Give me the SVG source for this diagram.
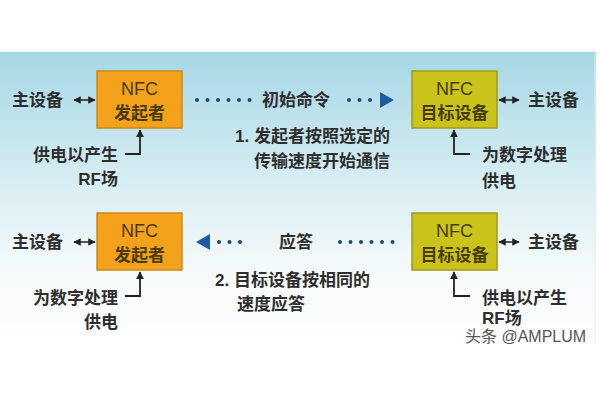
<svg xmlns="http://www.w3.org/2000/svg" width="600" height="400" viewBox="0 0 600 400">
<defs>
<linearGradient id="bg" x1="0" y1="0" x2="0" y2="1">
<stop offset="0" stop-color="#a6d7e5"/>
<stop offset="0.45" stop-color="#d8eef3"/>
<stop offset="0.75" stop-color="#f6fafb"/>
<stop offset="1" stop-color="#ffffff"/>
</linearGradient>
<marker id="ah" viewBox="0 0 10 10" refX="9" refY="5" markerWidth="5" markerHeight="5" orient="auto-start-reverse">
<path d="M0,0 L10,5 L0,10 z" fill="#222"/>
</marker>
<marker id="up" viewBox="0 0 10 10" refX="9" refY="5" markerWidth="4.5" markerHeight="4.5" orient="auto">
<path d="M0,0 L10,5 L0,10 z" fill="#222"/>
</marker>
</defs>
<style>
text{font-family:"Liberation Sans","Noto Sans CJK SC",sans-serif;font-size:17px;fill:#2e2e2e;font-weight:600;}
.bt{font-size:17px;fill:#4a3a10;text-anchor:middle;}
.lat{font-weight:normal;font-size:18px;}
.org{fill:#f4a21c;stroke:#c98a1a;stroke-width:1.5;}
.ylw{fill:#c9c31a;stroke:#9f9a20;stroke-width:1.5;}
.dbl{stroke:#222;stroke-width:1.5;fill:none;marker-start:url(#ah);marker-end:url(#ah);}
.pw{stroke:#222;stroke-width:1.8;fill:none;marker-end:url(#up);}
.dots{stroke:#1d4a6a;stroke-width:4;stroke-linecap:round;stroke-dasharray:0 10.5;fill:none;}
.tri{fill:#1e5aa6;}
.wm{font-size:16px;fill:#555;font-weight:normal;}
</style>
<rect x="0" y="0" width="600" height="400" fill="#ffffff"/>
<rect x="0" y="52" width="596" height="292" fill="url(#bg)"/>
<line x1="595" y1="52" x2="595" y2="344" stroke="#e0eef2" stroke-width="1"/>

<g id="connectors">
<line class="dbl" x1="74" y1="100" x2="95" y2="100"/>
<line class="dbl" x1="499" y1="100" x2="519" y2="100"/>
<line class="dbl" x1="74" y1="242" x2="95" y2="242"/>
<line class="dbl" x1="499" y1="242" x2="519" y2="242"/>
<path class="pw" d="M125,154 H140 V130"/>
<path class="pw" d="M470,154 H454 V130"/>
<path class="pw" d="M125,296 H140 V272"/>
<path class="pw" d="M470,296 H454 V272"/>
<line class="dots" x1="197" y1="100" x2="252" y2="100"/>
<line class="dots" x1="349" y1="100" x2="372" y2="100"/>
<polygon class="tri" points="380,92 394,100 380,108"/>
<polygon class="tri" points="210,234 196,242 210,250"/>
<line class="dots" x1="219" y1="242" x2="242" y2="242"/>
<line class="dots" x1="340" y1="242" x2="395" y2="242"/>
</g>

<g id="initiator-top">
<rect class="org" x="97" y="71" width="85" height="57"/>
<text class="bt lat" x="139.5" y="95">NFC</text>
<text class="bt" x="139.5" y="119">发起者</text>
</g>
<g id="target-top">
<rect class="ylw" x="412" y="71" width="85" height="57"/>
<text class="bt lat" x="454.5" y="95">NFC</text>
<text class="bt" x="454.5" y="119">目标设备</text>
</g>
<g id="initiator-bottom">
<rect class="org" x="97" y="213" width="85" height="57"/>
<text class="bt lat" x="139.5" y="237">NFC</text>
<text class="bt" x="139.5" y="261">发起者</text>
</g>
<g id="target-bottom">
<rect class="ylw" x="412" y="213" width="85" height="57"/>
<text class="bt lat" x="454.5" y="237">NFC</text>
<text class="bt" x="454.5" y="261">目标设备</text>
</g>

<g id="host-tl"><text x="12" y="106">主设备</text></g>
<g id="host-tr"><text x="528" y="106">主设备</text></g>
<g id="host-bl"><text x="12" y="248">主设备</text></g>
<g id="host-br"><text x="528" y="248">主设备</text></g>

<g id="label-init-cmd"><text x="262" y="106">初始命令</text></g>
<g id="label-response"><text x="279" y="248">应答</text></g>

<g id="note1" text-anchor="end">
<text x="390" y="142">1. 发起者按照选定的</text>
<text x="390" y="167">传输速度开始通信</text>
</g>
<g id="note2">
<text x="215" y="286">2. 目标设备按相同的</text>
<text x="237" y="310">速度应答</text>
</g>

<g id="power-tl" text-anchor="end">
<text x="118" y="161">供电以产生</text>
<text x="118" y="185">RF场</text>
</g>
<g id="power-tr">
<text x="482" y="161">为数字处理</text>
<text x="482" y="187">供电</text>
</g>
<g id="power-bl" text-anchor="end">
<text x="118" y="304">为数字处理</text>
<text x="118" y="328">供电</text>
</g>
<g id="power-br">
<text x="482" y="304">供电以产生</text>
<text x="482" y="324">RF场</text>
</g>

<text class="wm" x="465" y="342">头条 @AMPLUM</text>
</svg>
